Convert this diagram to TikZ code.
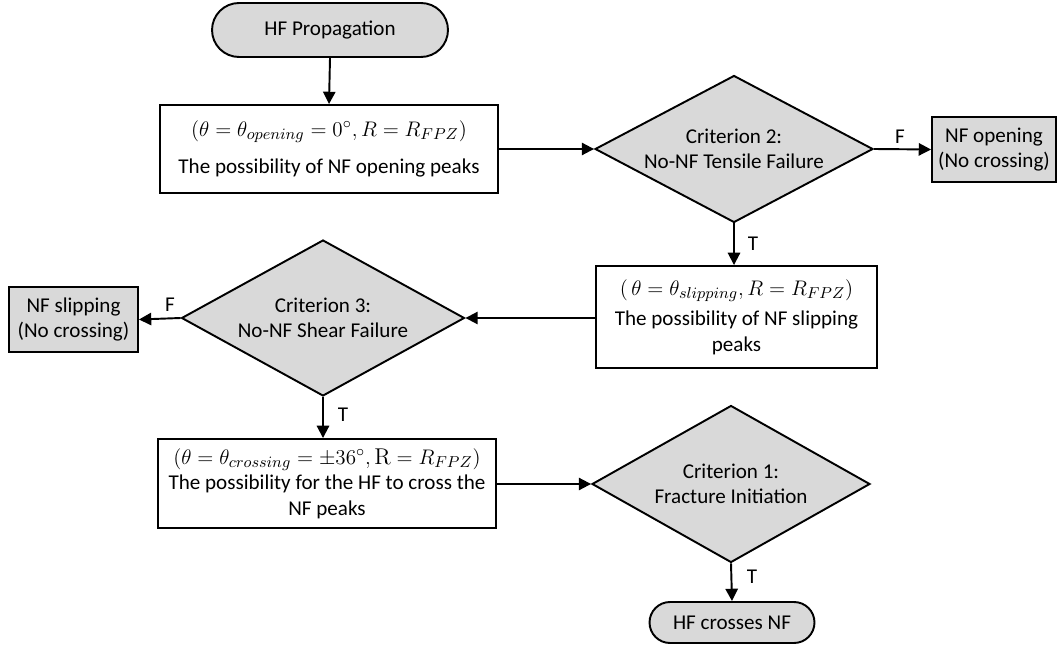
\documentclass[tikz,border=0pt]{standalone}
\usepackage{fontspec}
\setmainfont{Carlito}
\setmathrm{Latin Modern Roman}
\usetikzlibrary{arrows.meta,shapes.geometric}
\definecolor{gfill}{HTML}{D9D9D9}
\newcommand{\mline}[1]{{\fontsize{13}{15}\selectfont$#1$}}
\begin{document}
\begin{tikzpicture}[x=0.02cm,y=-0.02cm,
  font=\fontsize{12}{14.5}\selectfont,
  base/.style={draw=black, line width=1.1pt, inner sep=0pt, align=center},
  proc/.style={base, rectangle, fill=white},
  outbox/.style={base, rectangle, fill=gfill},
  term/.style={base, rectangle, fill=gfill},
  dec/.style={base, diamond, fill=gfill},
  arr/.style={line width=1.1pt, -{Triangle[length=7pt,width=7pt]}},
  lbl/.style={inner sep=0pt}
]
\useasboundingbox (0,0) rectangle (1057,651);

\node[term, minimum width=4.72cm, minimum height=1.08cm, rounded corners=0.54cm] (start) at (330,30) {HF Propagation};

\node[proc, minimum width=6.76cm, minimum height=1.76cm] (b1) at (329,149)
  {\mline{(\theta=\theta_{opening}=0^\circ,R=R_{FPZ})}\\[7pt]The possibility of NF opening peaks};

\node[dec, aspect=1.9, minimum width=5.56cm, minimum height=2.94cm] (d2) at (734,149)
  {Criterion 2:\\No-NF Tensile Failure};

\node[outbox, minimum width=2.48cm, minimum height=1.30cm] (nfo) at (994,149.5)
  {NF opening\\(No crossing)};

\node[proc, minimum width=5.62cm, minimum height=2.04cm] (b2) at (736.5,317)
  {\mline{(\,\theta=\theta_{slipping},R=R_{FPZ})}\\[3pt]The possibility of NF slipping\\peaks};

\node[dec, aspect=1.8, minimum width=5.66cm, minimum height=3.12cm] (d3) at (323,318)
  {Criterion 3:\\No-NF Shear Failure};

\node[outbox, minimum width=2.58cm, minimum height=1.30cm] (nfs) at (73.5,319.5)
  {NF slipping\\(No crossing)};

\node[proc, minimum width=6.76cm, minimum height=1.78cm] (b3) at (327,483.5)
  {\mline{(\theta=\theta_{crossing}=\pm36^\circ,\mathrm{R}=R_{FPZ})}\\The possibility for the HF to cross the\\NF peaks};

\node[dec, aspect=1.77, minimum width=5.56cm, minimum height=3.14cm] (d1) at (731,484)
  {Criterion 1:\\Fracture Initiation};

\node[term, minimum width=3.30cm, minimum height=0.82cm, rounded corners=0.41cm] (end) at (732,622.5)
  {HF crosses NF};

\draw[arr] (start.south) -- (b1.north);
\draw[arr] (b1.east) -- (d2.west);
\draw[arr] (d2.east) -- (nfo.west);
\draw[arr] (d2.south) -- (d2.south |- b2.north);
\draw[arr] (b2.west |- d3.east) -- (d3.east);
\draw[arr] (d3.west) -- (nfs.east);
\draw[arr] (d3.south) -- (d3.south |- b3.north);
\draw[arr] (b3.east |- d1.west) -- (d1.west);
\draw[arr] (d1.south) -- (end.north);

\node[lbl] (f1) at (900,137) {F};
\node[lbl] (t1) at (753,244) {T};
\node[lbl] (f2) at (170,305) {F};
\node[lbl] (t2) at (343,415) {T};
\node[lbl] (t3) at (752,577) {T};
\end{tikzpicture}
\end{document}
